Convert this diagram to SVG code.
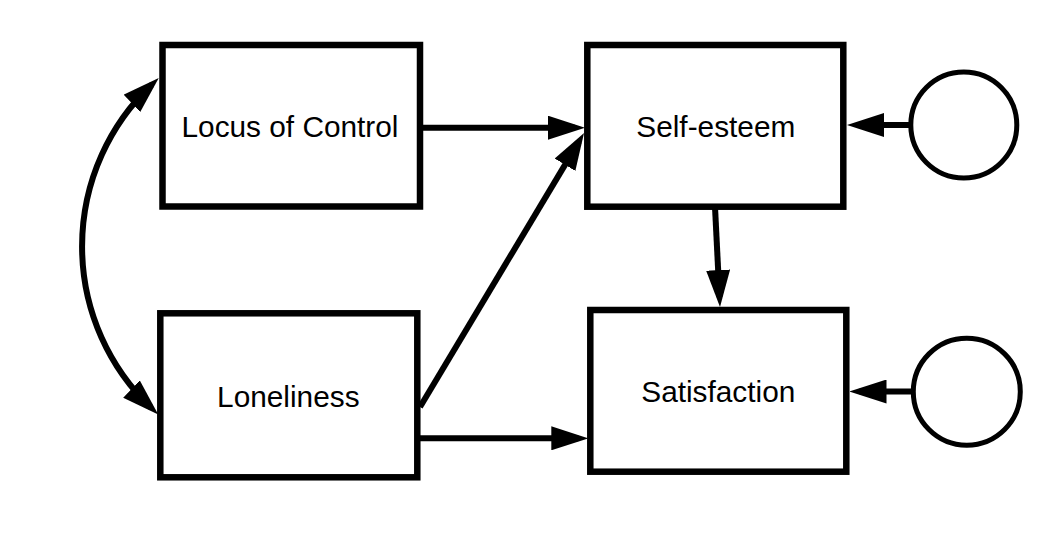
<svg xmlns="http://www.w3.org/2000/svg" width="1060" height="535" viewBox="0 0 1060 535">
  <style>
    .box { fill: #fff; stroke: #000; stroke-width: 6.5; }
    .err { fill: #fff; stroke: #000; stroke-width: 5; }
    .lbl { font-family: "Liberation Sans", Arial, sans-serif; font-size: 29.8px; fill: #000; text-anchor: middle; }
    .conn { fill: none; stroke: #000; stroke-width: 6; marker-end: url(#ah); }
  </style>
  <defs>
    <marker id="ah" markerUnits="userSpaceOnUse" viewBox="0 0 37 24" markerWidth="37" markerHeight="24" refX="27" refY="12" orient="auto">
      <path d="M0,0 L37,12 L0,24 z" fill="#000"/>
    </marker>
    <marker id="ahs" markerUnits="userSpaceOnUse" viewBox="0 0 37 24" markerWidth="37" markerHeight="24" refX="27" refY="12" orient="auto-start-reverse">
      <path d="M0,0 L37,12 L0,24 z" fill="#000"/>
    </marker>
  </defs>
  <rect width="1060" height="535" fill="#fff"/>
  <g id="connectors">
    <path class="conn" d="M151.5,84.8 A223,223 0 0 0 151,407.7" style="marker-start:url(#ahs)"/>
    <path class="conn" d="M423,127.7 L575,127.7"/>
    <path class="conn" d="M420,407 L578.9,141.6"/>
    <path class="conn" d="M420,438.3 L578.3,438.3"/>
    <path class="conn" d="M715,207 L719.5,297"/>
    <path class="conn" d="M911,125 L857,125"/>
    <path class="conn" d="M913.5,391.5 L859.5,391.5"/>
  </g>
  <g id="locus">
    <rect class="box" x="162.5" y="45" width="257.5" height="161.5"/>
    <text class="lbl" x="290" y="136.7">Locus of Control</text>
  </g>
  <g id="loneliness">
    <rect class="box" x="160.3" y="313.3" width="257" height="164"/>
    <text class="lbl" x="288.3" y="406.7">Loneliness</text>
  </g>
  <g id="selfesteem">
    <rect class="box" x="587.3" y="45" width="256" height="161.7"/>
    <text class="lbl" x="715.8" y="136.7">Self-esteem</text>
  </g>
  <g id="satisfaction">
    <rect class="box" x="590.3" y="310" width="256" height="161.7"/>
    <text class="lbl" x="718.3" y="401.7">Satisfaction</text>
  </g>
  <g id="e1">
    <circle class="err" cx="963.8" cy="125" r="53"/>
  </g>
  <g id="e2">
    <circle class="err" cx="966.8" cy="391.7" r="53.5"/>
  </g>
</svg>
